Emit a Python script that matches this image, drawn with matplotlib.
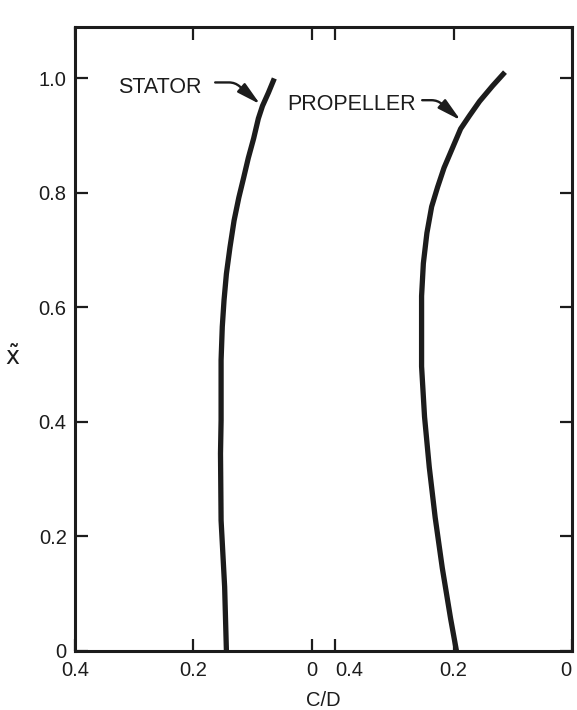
import matplotlib
matplotlib.use("Agg")
import matplotlib.pyplot as plt

plt.rcParams['font.family'] = ['Liberation Sans', 'DejaVu Sans']
plt.rcParams['mathtext.fontset'] = 'dejavusans'

INK = '#1c1c1c'

# chord/diameter along the span
stator_cd = [0.063, 0.073, 0.083, 0.090, 0.098, 0.107, 0.115, 0.123, 0.131,
             0.138, 0.144, 0.148, 0.151, 0.153, 0.153, 0.154, 0.153, 0.147,
             0.144]
stator_x = [1.000, 0.975, 0.952, 0.930, 0.895, 0.861, 0.826, 0.792, 0.752,
            0.705, 0.659, 0.613, 0.566, 0.508, 0.403, 0.345, 0.228, 0.112,
            0.000]

prop_cd = [0.113, 0.134, 0.156, 0.173, 0.188, 0.202, 0.216, 0.227, 0.237,
           0.245, 0.251, 0.254, 0.254, 0.254, 0.249, 0.241, 0.231, 0.219,
           0.205, 0.195]
prop_x = [1.011, 0.987, 0.960, 0.935, 0.912, 0.878, 0.844, 0.810, 0.776,
          0.730, 0.677, 0.620, 0.562, 0.497, 0.409, 0.321, 0.233, 0.145,
          0.057, 0.000]

# two reversed C/D scales share one x axis: stator on the left, propeller on the right
SEG_W = 0.4
GAP = 0.04
PROP_OFF = SEG_W + GAP

x_ticks_cd = [0.4, 0.2, 0.0, 0.4, 0.2, 0.0]
x_tick_labels = ['0.4', '0.2', '0', '0.4', '0.2', '0']
y_ticks = [0.0, 0.2, 0.4, 0.6, 0.8, 1.0]
y_tick_labels = ['0', '0.2', '0.4', '0.6', '0.8', '1.0']


def stator_u(cd):
    return SEG_W - cd


def prop_u(cd):
    return PROP_OFF + SEG_W - cd


fig = plt.figure(figsize=(5.77, 7.10), dpi=100)
ax = fig.add_axes([0.130, 0.0831, 0.861, 0.879])

line_kw = dict(color=INK, lw=3.8, solid_capstyle='butt', solid_joinstyle='round')
ax.plot([stator_u(c) for c in stator_cd], stator_x, **line_kw)
ax.plot([prop_u(c) for c in prop_cd], prop_x, **line_kw)

ax.set_xlim(0, PROP_OFF + SEG_W)
ax.set_ylim(0, 1.09)

x_pos = [stator_u(c) for c in x_ticks_cd[:3]] + [prop_u(c) for c in x_ticks_cd[3:]]
ax.set_xticks(x_pos)
ax.set_xticklabels(x_tick_labels)
ax.set_yticks(y_ticks)
ax.set_yticklabels(y_tick_labels)

ax.tick_params(axis='both', direction='in', length=9, width=1.6, color=INK,
               labelsize=14.5, labelcolor=INK)
ax.tick_params(axis='x', top=True, pad=7)
ax.tick_params(axis='y', right=True, pad=6)

# the "0.4" of the propeller scale sits just right of the stator "0",
# and the last "0" must stay inside the figure
xlabels = ax.get_xticklabels()
xlabels[3].set_horizontalalignment('left')
xlabels[5].set_horizontalalignment('right')

for sp in ax.spines.values():
    sp.set_linewidth(2.2)
    sp.set_color(INK)

ax.set_xlabel('C/D', fontsize=14.5, color=INK, labelpad=8)
ax.set_ylabel(r'$\tilde{\mathrm{x}}$', fontsize=17, color=INK, rotation=0)
ax.yaxis.set_label_coords(-0.125, 0.45)

# labels with a short horizontal leader that bends down into an arrow
arrow_kw = dict(arrowstyle='-|>,head_length=1.3,head_width=0.32', color=INK,
                lw=1.7, shrinkA=0, shrinkB=0, mutation_scale=11)

ax.text(0.144, 0.985, 'STATOR', ha='center', va='center', fontsize=15.5, color=INK)
ax.annotate('', xy=(stator_u(0.087), 0.955), xytext=(0.237, 0.993),
            arrowprops=dict(connectionstyle='angle,angleA=0,angleB=139,rad=6',
                            **arrow_kw))

ax.text(0.468, 0.954, 'PROPELLER', ha='center', va='center', fontsize=15.5, color=INK)
ax.annotate('', xy=(prop_u(0.188), 0.927), xytext=(0.587, 0.962),
            arrowprops=dict(connectionstyle='angle,angleA=0,angleB=139,rad=6',
                            **arrow_kw))

fig.savefig('out.png', dpi=100)
